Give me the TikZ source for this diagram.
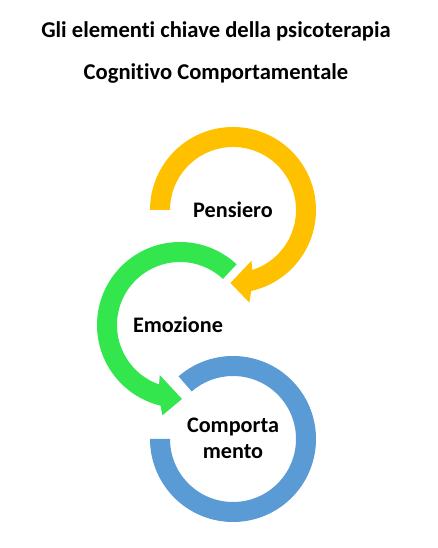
\documentclass[tikz,border=0pt]{standalone}
\usepackage{fontspec}
\setmainfont{Carlito}[Ligatures=NoCommon]
\usetikzlibrary{positioning}
\definecolor{giallo}{RGB}{255,192,0}
\definecolor{verde}{RGB}{51,230,77}
\definecolor{azzurro}{RGB}{91,155,213}
\tikzset{
    titolo/.style={font=\bfseries\fontsize{22.6}{26}\selectfont, inner sep=0pt, anchor=base},
    etichetta/.style={font=\bfseries\fontsize{22.2}{26}\selectfont, inner sep=0pt, align=center},
}

\begin{document}
\begin{tikzpicture}[x=1pt, y=1pt]
\useasboundingbox (0,0) rectangle (437,548);

% Titolo
\node[titolo] (titolo1) at (216,510) {Gli elementi chiave della psicoterapia};
\node[titolo] (titolo2) at (216,468) {Cognitivo Comportamentale};

% Anello blu: Comportamento
\begin{scope}[shift={(233,109)}]
\fill[azzurro] (131:83) arc (131:-180:83) -- (180:63) arc (-180:131:63) -- cycle;
\node[etichetta] (comportamento) at (0,1) {Comporta\\mento};
\end{scope}

% Freccia verde: Emozione
\begin{scope}[shift={(180,223)}]
\fill[verde] (47:83) arc (47:256.4:83) -- (259:92) -- (271.5:74) -- (248:54) -- (250.6:63) arc (250.6:47:63) -- cycle;
\node[etichetta] (emozione) at (-2,0) {Emozione};
\end{scope}

% Freccia gialla: Pensiero
\begin{scope}[shift={(233,338)}]
\fill[giallo] (180:83) arc (180:-77.3:83) -- (-80:94) -- (-92:73) -- (-70:54) -- (-72.2:63) arc (-72.2:180:63) -- cycle;
\node[etichetta] (pensiero) at (0,0) {Pensiero};
\end{scope}
\end{tikzpicture}
\end{document}
